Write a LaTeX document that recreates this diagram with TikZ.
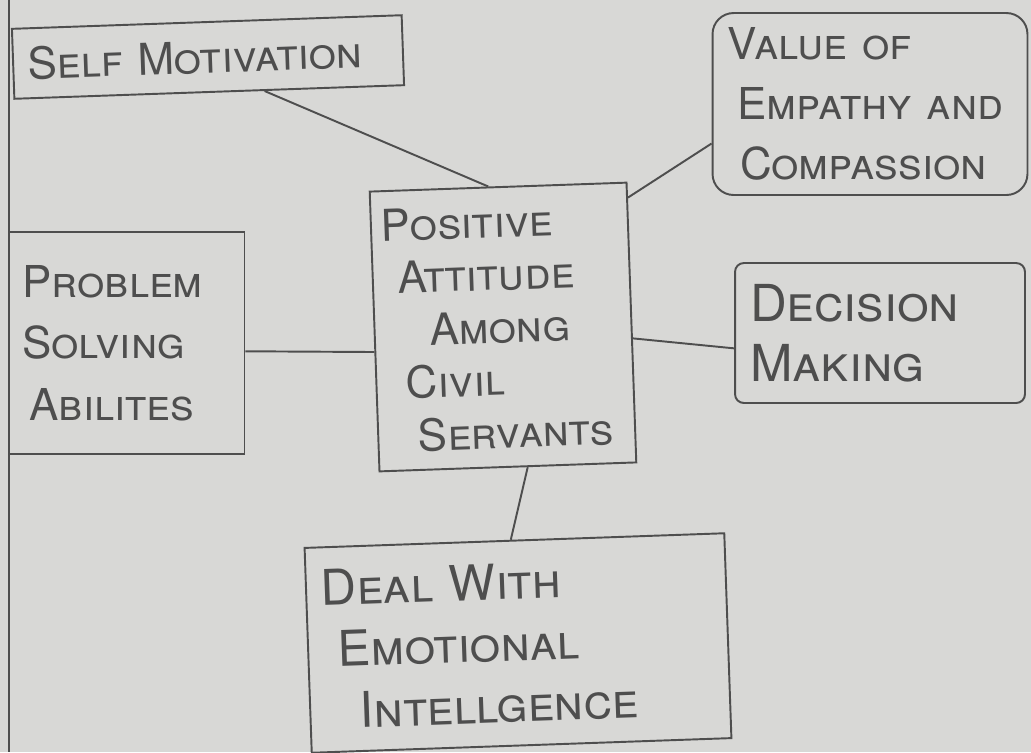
\documentclass[tikz,border=0pt]{standalone}
\usepackage{fontspec}
\setmainfont{TeX Gyre Heros}
\definecolor{paper}{RGB}{216,216,214}
\definecolor{ink}{RGB}{78,78,78}

\begin{document}
\begin{tikzpicture}[x=0.02cm,y=-0.02cm,
  box/.style={draw=ink,line width=1.1pt,text=ink,align=left,inner xsep=0.3cm,
    font=\fontsize{25}{30}\selectfont\scshape},
  link/.style={draw=ink,line width=1.1pt}]
\fill[paper] (0,0) rectangle (1031,752);
\useasboundingbox (0,0) rectangle (1031,752);
\draw[ink,line width=1.1pt] (9,0) -- (9,752);

\node[box,text width=7.2cm,minimum height=1.4cm,rotate=2] (selfmot) at (208,57) {Self Motivation};
\node[box,text width=5.7cm,minimum height=3.64cm,rounded corners=12pt,
  font=\fontsize{25}{34}\selectfont\scshape] (empathy) at (870,104)
  {Value of\\\hspace*{0.2cm}Empathy and\\\hspace*{0.25cm}Compassion};
\node[box,text width=4.74cm,minimum height=5.6cm,rotate=2,inner xsep=0.2cm] (attitude) at (503,327)
  {\mbox{Positive}\\\hspace*{0.3cm}\mbox{Attitude}\\\hspace*{0.9cm}\mbox{Among}\\
   \hspace*{0.4cm}\mbox{Civil}\\\hspace*{0.6cm}\mbox{Servants}};
\node[box,text width=4.2cm,minimum height=4.45cm,inner xsep=0.25cm,
  font=\fontsize{25}{35}\selectfont\scshape] (problem) at (127,343)
  {Problem\\Solving\\\hspace*{0.15cm}Abilites};
\node[box,text width=5.2cm,minimum height=2.8cm,rounded corners=5pt,
  font=\fontsize{29}{34}\selectfont\scshape] (decision) at (880,333)
  {Decision\\Making};
\node[box,text width=7.8cm,minimum height=4.1cm,rotate=2,
  font=\fontsize{28}{35}\selectfont\scshape] (emotional) at (518,643)
  {Deal With\\\hspace*{0.3cm}Emotional\\\hspace*{0.7cm}Intellgence};

\draw[link] (selfmot.-33) -- (attitude.94);
\draw[link] (empathy.194) -- (attitude.44);
\draw[link] (problem.-4) -- (attitude.189);
\draw[link] (attitude.-7) -- (decision.186);
\draw[link] (attitude.-82) -- (emotional.92);
\end{tikzpicture}
\end{document}
